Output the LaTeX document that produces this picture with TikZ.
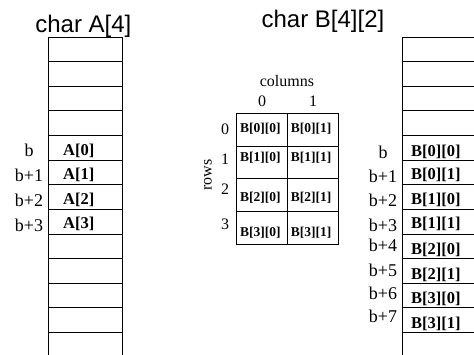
\documentclass[tikz,border=0pt]{standalone}
\usepackage{fontspec}
\setmainfont{Liberation Serif}
\newfontfamily\titlefont{Liberation Sans}
\begin{document}
\begin{tikzpicture}[x=1pt,y=-1pt,
  grid/.style={line width=0.9pt, black},
  title/.style={font=\titlefont\fontsize{24}{24}\selectfont, anchor=base, inner sep=0pt},
  addr/.style={font=\fontsize{18}{18}\selectfont, anchor=base, inner sep=0pt},
  cell/.style={font=\bfseries\fontsize{16.5}{16.5}\selectfont, anchor=base west, inner sep=0pt},
  tcell/.style={font=\bfseries\fontsize{13.5}{13.5}\selectfont, anchor=base west, inner sep=0pt},
  idx/.style={font=\fontsize{16}{16}\selectfont, anchor=base, inner sep=0pt}]
\useasboundingbox (0,0) rectangle (474,355);
% left column
\draw[grid] (48,37) -- (48,356) (122,37) -- (122,356);
\foreach \k in {0,...,12} \draw[grid] (48,{37+24.62*\k}) -- (122,{37+24.62*\k});
% right column
\draw[grid] (402,37) -- (402,356);
\foreach \k in {0,...,12} \draw[grid] (402,{37+24.62*\k}) -- (475,{37+24.62*\k});
% middle table
\draw[grid] (236.7,113.3) rectangle (338.5,244);
\draw[grid] (287.3,113.3) -- (287.3,244);
\foreach \y in {146,178.3,211} \draw[grid] (236.7,\y) -- (338.5,\y);
% titles
\node[title] (tA) at (83.4,33) {char A[4]};
\node[title] (tB) at (323,28) {char B[4][2]};
% left labels
\node[addr] (la0) at (29,157) {b};
\node[addr] (la1) at (29,182) {b+1};
\node[addr] (la2) at (29,206.7) {b+2};
\node[addr] (la3) at (29,231.7) {b+3};
\node[cell] (a0) at (63,155.5) {A[0]};
\node[cell] (a1) at (63,180) {A[1]};
\node[cell] (a2) at (63,204.5) {A[2]};
\node[cell] (a3) at (63,229) {A[3]};
% right labels
\node[addr] (rb0) at (383,159) {b};
\node[addr] (rb1) at (383,183) {b+1};
\node[addr] (rb2) at (383,207) {b+2};
\node[addr] (rb3) at (383,232) {b+3};
\node[addr] (rb4) at (383,252) {b+4};
\node[addr] (rb5) at (383,277) {b+5};
\node[addr] (rb6) at (383,300) {b+6};
\node[addr] (rb7) at (383,323) {b+7};
\node[cell] (b00) at (411,157) {B[0][0]};
\node[cell] (b01) at (411,180) {B[0][1]};
\node[cell] (b10) at (411,205) {B[1][0]};
\node[cell] (b11) at (411,229) {B[1][1]};
\node[cell] (b20) at (411,255) {B[2][0]};
\node[cell] (b21) at (411,280) {B[2][1]};
\node[cell] (b30) at (411,304) {B[3][0]};
\node[cell] (b31) at (411,329) {B[3][1]};
% middle table labels
\node[idx] (cols) at (287,86.7) {columns};
\node[idx] (c0) at (262,106.7) {0};
\node[idx] (c1) at (313,106.7) {1};
\node[idx] (r0) at (225,135) {0};
\node[idx] (r1) at (225,165) {1};
\node[idx] (r2) at (225,195) {2};
\node[idx] (r3) at (225,230) {3};
\node[font=\fontsize{16}{16}\selectfont, rotate=90, inner sep=0pt] (rows) at (208,175) {rows};
\node[tcell] (t00) at (240,133) {B[0][0]};
\node[tcell] (t01) at (290.7,133) {B[0][1]};
\node[tcell] (t10) at (240,161.7) {B[1][0]};
\node[tcell] (t11) at (290.7,161.7) {B[1][1]};
\node[tcell] (t20) at (240,201.7) {B[2][0]};
\node[tcell] (t21) at (290.7,201.7) {B[2][1]};
\node[tcell] (t30) at (240,236.7) {B[3][0]};
\node[tcell] (t31) at (290.7,236.7) {B[3][1]};
\end{tikzpicture}
\end{document}
